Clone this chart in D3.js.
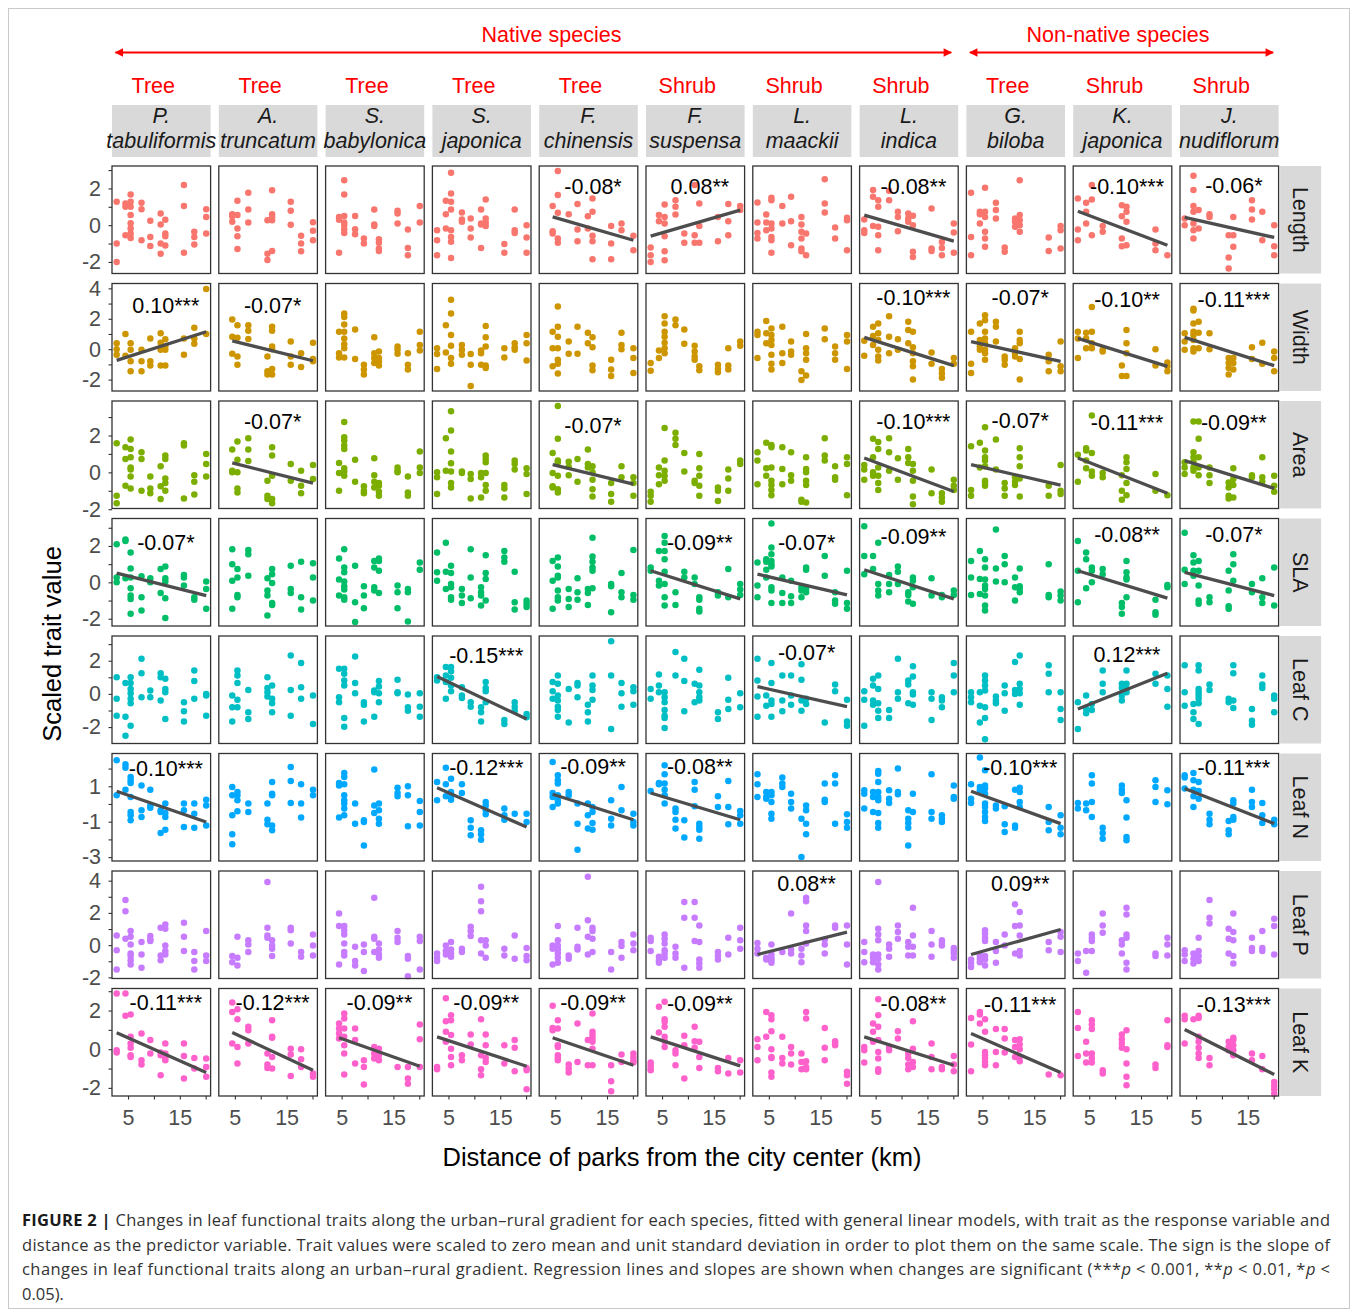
<!DOCTYPE html>
<html>
<head>
<meta charset="utf-8">
<script src="https://cdn.jsdelivr.net/npm/d3@7"></script>
<style>
  body { margin: 0; background: #fff; }
  svg { display: block; }
</style>
</head>
<body>
<svg id="chart" width="1358" height="1313"></svg>
<script>
// ---- data -------------------------------------------------------------
const species = [
  ['P.', 'tabuliformis'], ['A.', 'truncatum'], ['S.', 'babylonica'], ['S.', 'japonica'],
  ['F.', 'chinensis'], ['F.', 'suspensa'], ['L.', 'maackii'], ['L.', 'indica'],
  ['G.', 'biloba'], ['K.', 'japonica'], ['J.', 'nudiflorum']
];
const habit = ['Tree', 'Tree', 'Tree', 'Tree', 'Tree', 'Shrub', 'Shrub', 'Shrub', 'Tree', 'Shrub', 'Shrub'];
const origin = [
  { label: 'Native species', from: 0, to: 7 },
  { label: 'Non-native species', from: 8, to: 10 }
];
const traits = ['Length', 'Width', 'Area', 'SLA', 'Leaf C', 'Leaf N', 'Leaf P', 'Leaf K'];
const traitColors = ['#F8766D', '#CD9600', '#7CAE00', '#00BE67', '#00BFC4', '#00A9FF', '#C77CFF', '#FF61CC'];

const xLimits = [1.9, 20.95];
const xTicks = [5, 10, 15, 20];
const xTickLabels = [5, 15];

const yLimits = [[-2.63, 3.22], [-2.75, 4.32], [-1.96, 3.87], [-2.4, 3.51],
                 [-2.99, 3.49], [-3.22, 2.85], [-2.07, 4.6], [-2.42, 3.14]];
const yTicks = [[-2, -1, 0, 1, 2, 3], [-2, -1, 0, 1, 2, 3, 4], [-2, -1, 0, 1, 2, 3], [-2, -1, 0, 1, 2, 3],
                [-2, -1, 0, 1, 2, 3], [-3, -2, -1, 0, 1, 2], [-2, -1, 0, 1, 2, 3, 4], [-2, -1, 0, 1, 2, 3]];
const yTickLabels = [[-2, 0, 2], [-2, 0, 2, 4], [-2, 0, 2], [-2, 0, 2],
                     [-2, 0, 2], [-3, -1, 1], [-2, 0, 2, 4], [-2, 0, 2]];

// points per park: [distance, scaled value, scaled value, ...], one list per species
const lengthPts = [
  [[2.8,1.27,-1,-2],[4.5,1.18,1,-0.55],[5.5,1.67,1.27,1,0.55,0.1,-0.18,-0.45,-0.7],[7.6,1.22,0.87,-0.82],[9.3,0.24,-0.64,-1.13],[11.3,0.64,0.04,-1,-1.55],[12.2,0.3,-0.45,-0.6,-1.1],[15.8,2.18,1.05,-1.5],[17.8,-0.36,-0.64,-1.05],[20.1,0.87,0.45,-0.45]],
  [[4.5,0.6,0.49,0.18],[5.5,1.33,0.55,-0.18,-0.6,-1.3],[7.6,1.76,0.85,0.15],[11.3,0.27,-1.55,-1.9],[12.2,1.9,0.6,0.45,0.27,-1.4],[15.8,1.27,0.78,0.02],[17.8,-0.58,-1,-1.42],[20.1,0.16,-0.3,-0.82]],
  [[4.5,0.45,0.3,-1.5],[5.5,2.45,1.67,0.5,0.15,0,-0.22,-0.42],[7.6,0.5,-0.22,-0.5],[9.3,-0.73,-1],[11.3,0.85,0.04,-0.05],[12.2,-0.76,-0.96,-1.27,-1.4],[15.8,0.78,0.64,0.09],[17.8,-0.24,-1.24,-1.64],[20.1,1.05,0.15]],
  [[2.8,-0.27,-0.82,-1.64],[4.5,1.33,0.6,-0.18],[5.5,2.85,1.73,1.27,0.85,-0.27,-0.64,-0.9,-1.78],[7.6,0.69,0.31,0.18],[9.3,0.36,-0.18,-0.67],[11.3,0.85,0.09,0.04,-1.24],[12.2,1.4,0.36,0.15,-0.04],[15.8,-1.02,-1.5],[17.8,0.85,-0.27,-0.42],[20.1,0,-0.67,-1.5]],
  [[4.5,1.05,-0.33,-0.45],[5.5,2.95,1.64,0.67,-0.73,-0.96],[7.6,0.6],[9.3,1.15,-0.24,-0.87],[11.3,0.49,-0.18],[12.2,1.45,0.73,-0.58,-0.87,-1.85],[15.8,-0.04,-1,-1.85],[17.8,0.09,-0.27],[20.1,-0.58,-1.36]],
  [[2.8,-1.22,-1.64,-2],[4.4,0.55,0.22],[5.5,1.13,0.45,0.09,-0.6,-1.42,-1.91],[7.6,1.36,1,0.58],[9.3,-0.45,-0.96],[11.3,2.18,-0.55,-0.96],[12.2,1.18,-0.04,-0.95],[15.8,0.45,-0.87],[17.8,1.15,0.22,-0.55],[20.1,1.05,0.82]],
  [[2.8,1.24,0.15,-0.42,-0.73],[4.5,0.58,0.15,-0.27],[5.5,1.49,1.36,0.09,-0.18,-0.64,-0.82,-1.5],[7.6,1.05,0.09],[9.3,1.55,0.22,-1.09],[11.3,0.45,0.04,-0.36,-0.73,-1.27,-1.42],[12.2,-0.45,-1.64],[15.8,2.5,1.18,0.69],[17.8,-0.13,-0.73],[20.1,0.4,0.27,-1.36]],
  [[2.8,0.31,-0.27,-0.42],[4.5,1.91,1.55,-0.04],[5.5,1.36,1,-0.09,-0.55,-1.36],[7.6,1.87,1.36],[9.3,0.73,0.45,-0.33],[11.3,0.64,0.36,0.18],[12.2,0.51,0,-1.45,-1.73],[15.8,0.91,-1.27,-1.4],[17.8,-0.91,-1.24,-1.64],[20.1,0.09,-0.4,-1.5]],
  [[2.8,1.76,-0.64,-1.64],[4.5,0.73,0.6,0.09],[5.5,2.04,0.73,0.45,-0.36,-0.73,-1.18],[7.6,1.22,0.82,0.36],[9.3,-1.22,-1.45],[11.3,0.36,0.18,-0.09],[12.2,2.45,0.55,0.27,0,-0.36],[17.8,-0.67,-1.4],[20.1,-0.05,-0.27,-1.27]],
  [[2.8,1.45,-0.24,-0.82],[4.4,1.22,0.73,0.09],[5.5,2.18,1.4,-0.55],[7.6,-0.05,-0.36],[11.3,1.09,0.49,-0.73,-1.15],[12.2,1,0.73,0.18,-1.09],[17.8,-0.24,-1,-1.36],[20.1,-1.64]],
  [[2.8,0.36,0],[4.5,2.69,1.91,1.04,0.73,0.09,-0.27,-0.73],[5.5,0.82,-0.18],[7.6,0.6,0.45],[11.3,-0.55,-1.76,-2.36],[12.2,0.45,-0.55,-1.18],[15.8,1.36,0.85,0.31],[17.8,0.73,-0.82],[20.1,0,-1.15,-1.64]]
];
const widthPts = [
  [[2.8,0.39,0,-0.37],[4.5,1,-0.43],[5.5,0.39,-0.04,-0.8,-1.45],[7.6,-0.04,-0.8,-1.45],[9.3,0.71,-0.8,-1.08],[11.3,1.04,0.43,-0.04,-1.08],[12.2,0.65,0.17,-0.04,-1.08],[15.8,0.71,-0.37],[17.8,1.41,0.71,0.35],[20.1,3.96,1]],
  [[4.5,1.95,0.82,-0.3],[5.5,1.58,0.76,-0.48,-1.02],[7.6,1.58,1.21,0.67],[11.3,-0.48,-1.45,-1.67],[12.2,1.47,1.21,0.17,0,-1.3,-1.67],[15.8,0.5,-0.48,-1.02],[17.8,-0.26,-1.17],[20.1,0.43,-0.65,-0.8]],
  [[4.5,1.15,-0.26,-0.54],[5.5,2.34,2.12,1.62,1.15,0.71,0.32,0.06,-0.54],[7.6,1.3,-0.65],[9.3,-1.02,-1.34,-1.67],[11.3,0.78,-0.26,-0.58,-0.91],[12.2,-0.15,-0.58,-0.8,-1.08],[15.8,0.17,-0.04,-0.3],[17.8,-0.26,-1.02,-1.34],[20.1,1.15,0.28,-0.09]],
  [[2.8,0.06,-0.32,-1.3],[4.5,1.58,-0.22],[5.5,3.25,2.34,0.93,0.22,-0.58,-0.95],[7.6,0.28,-0.04,-0.37],[9.3,-0.32,-1.02,-2.42],[11.3,-0.09,-0.26,-1.02],[12.2,1.52,0.78,0.17,-1.08,-1.23],[15.8,0.06,-0.54],[17.8,0.39,0.13,-0.04],[20.1,0.93,0.39,-0.74]],
  [[4.5,1.15,0.06,-1.13],[5.5,2.81,1.47,0.82,0.06,-0.69,-0.95,-1.6],[7.6,0.5,-0.3],[9.3,1.47,-0.3],[11.3,1.08,0.39],[12.2,0.78,0.13,-1.08,-1.39],[15.8,-0.69,-1.34,-1.77],[17.8,1.08,0.28,0],[20.1,0.06,-0.58,-1.56]],
  [[2.8,-0.91,-1.41],[4.4,-0.09,-0.58],[5.5,2.16,1.69,1.15,0.82,0.43,0.06,-0.26],[7.6,1.95,1.58],[9.3,1.3,0.35],[11.3,0.22,-0.15,-0.48,-0.69],[12.2,-1.13,-1.39],[15.8,-1.02,-1.3,-1.52],[17.8,0.06,-1.08,-1.34],[20.1,0.5,0.22]],
  [[2.8,1.15,0.93,-0.58],[4.5,1.86,1.04,0.39],[5.5,1.36,0.93,0.61,0.28,-0.37,-0.95,-1.34],[7.6,1.47,-0.26,-0.91],[9.3,0.5,-0.15,-0.37],[11.3,-1.45,-2.03],[12.2,1,0.06,-0.26,-0.69,-1.73],[15.8,1.36,0.65],[17.8,0.17,-0.26,-0.69],[20.1,0.93,0.5,-1.3]],
  [[2.8,0.56,-0.43],[4.5,1.47,0.87,0.28],[5.5,1.69,1.04,0.61,-0.04,-0.48,-0.74],[7.6,2.16,0.82,-0.26],[9.3,0.65,-0.04],[11.3,1.8,1.26,0.39],[12.2,1.15,0.13,-0.26,-0.8,-1.13,-1.99],[15.8,-0.22,-0.95],[17.8,-1.3,-1.6,-1.88],[20.1,-0.58,-0.95]],
  [[2.8,1.15,-0.95,-1.56],[4.5,1.69,0.61,0.17,-0.04],[5.5,2.23,1.9,1.15,0.71,0.39,-0.04,-0.26,-0.69],[7.6,1.8,1.47,0.5],[9.3,-0.48,-0.69,-1.02],[11.3,0.06,-0.26,-0.48],[12.2,1.15,0.61,0.39,-0.65,-1.99],[17.8,-0.37,-0.8,-1.45],[20.1,0.5,-1.13,-1.45]],
  [[2.8,1.15,0.71,-0.58],[4.4,1.08,0.71,0.06],[5.5,2.77,1.15,0.39,0.06],[7.6,-0.04,-0.15],[11.3,-1.08,-1.77],[12.2,1.26,0.39,-0.26,-1.77],[17.8,0,-1.08],[20.1,-0.87,-1.13,-1.45]],
  [[2.8,1.04,0.5,-0.04],[4.5,2.66,2.55,1.69,1.15,0.93,0.61,0.06,-0.15],[5.5,1.8,1.08,0.06],[7.6,1.04,0],[11.3,-0.58,-0.91,-1.23,-1.67],[12.2,-0.58,-0.91,-1.34],[15.8,0.13,-0.65],[17.8,0.43,-0.95],[20.1,-0.15,-0.58,-1.45]]
];
const areaPts = [
  [[2.8,1.58,-1.27,-1.67],[4.5,1.36,0.73,-0.73],[5.5,1.78,1.27,0.82,0.27,0.15,-0.22,-0.87],[7.6,1.09,0.73,-1],[9.3,-0.22,-0.87,-1.13],[11.3,0.33,-0.76,-1.45],[12.2,0.91,0.73,-0.33,-0.58,-1],[15.8,1.58,1.45,-1.42],[17.8,-0.15,-0.51,-1.2],[20.1,1,0.45,-0.22]],
  [[4.5,1.24,0.09,0],[5.5,1.67,0.69,0,-0.87,-1.09],[7.6,1.85,1.24,0.62],[11.3,-0.45,-1.27,-1.45],[12.2,1.36,0.91,-0.18,-1.45,-1.67],[15.8,0.45,-0.45],[17.8,0.09,-0.73,-1.13],[20.1,0.4,-0.36]],
  [[4.5,0.51,-0.04,-1],[5.5,2.73,1.91,1.73,1.45,1.27,0.22,0.04,-0.18],[7.6,0.69,-0.51],[9.3,-0.76,-1,-1.13],[11.3,0.76,-0.15,-0.51,-0.82],[12.2,-0.58,-0.73,-1.05,-1.27],[15.8,0.27,0.09,0],[17.8,-0.22,-1.09,-1.27],[20.1,1.13,0.27,-0.04]],
  [[2.8,0,-0.27,-1.18],[4.5,1.85,0.09],[5.5,3.31,2.27,1.13,0.49,0.04,-0.58,-0.82],[7.6,0.04,-0.04],[9.3,-0.09,-0.36,-1.42],[11.3,-0.04,-0.27,-1.36],[12.2,0.91,0.73,0.55,-0.04,-0.69,-1],[15.8,-0.69,-0.87,-1.36],[17.8,0.64,0.45,0.15],[20.1,0.22,-0.09,-1.18]],
  [[4.5,1.05,-0.04,-0.76,-0.82],[5.5,3.6,1.82,0.64,0.55,-0.18,-0.91,-1.09],[7.6,0.58,0.31,-0.15],[9.3,0.73,-0.51],[11.3,1.24,0.45,0.27],[12.2,0.33,0,-0.4,-0.91,-1.31],[15.8,-0.58,-1.18,-1.6],[17.8,0.33,-0.27],[20.1,-0.27,-0.58,-1.27]],
  [[2.8,-1.05,-1.27,-1.6],[4.4,0.27,-0.15,-0.64],[5.5,2.4,0.64,0.09,-0.18,-0.45],[7.6,2.15,1.82,1.49],[9.3,1.05,0.04],[11.3,-0.45,-0.58],[12.2,1,0.22,-0.18,-0.73,-1.27],[15.8,-0.82,-1,-1.55],[17.8,0.15,-0.33,-1],[20.1,0.64,0.45]],
  [[2.8,1.09,0.64,-0.64],[4.5,1.6,0.22,-0.18],[5.5,1.49,1.36,0.27,-0.45,-0.69,-0.95,-1.24],[7.6,1.36,0.18,-0.64],[9.3,1.09,-0.15,-0.45],[11.3,-1.49,-1.6],[12.2,0.82,0.18,0,-0.45,-0.69,-1.64],[15.8,1.85,0.91,0.64],[17.8,0.33,-0.27,-0.4],[20.1,0.82,0.45,-1.24]],
  [[2.8,0.4,0.15,-0.4],[4.5,1.82,0.82,0,-0.18],[5.5,1.64,1.27,0.27,-0.18,-0.58,-0.95],[7.6,1.85,1.09,0.09],[9.3,0.76,-0.4],[11.3,1.27,0.82,0.51],[12.2,0.45,0.09,-0.45,-1.31,-1.73],[15.8,0.15,-1.13],[17.8,-1.13,-1.36,-1.6],[20.1,-0.4,-0.73,-0.95]],
  [[2.8,1.42,-0.95,-1.27],[4.5,1.6,0.27],[5.5,2.45,1.18,0.82,0.64,0.33,-0.45,-0.58,-0.73],[7.6,1.78,0.15],[9.3,-0.58,-0.87,-1.27],[11.3,-0.27,-0.51,-0.69],[12.2,1.31,0.82,0.33,-0.33,-1.31],[17.8,-0.73,-1.27],[20.1,0.4,-1,-1.18]],
  [[2.8,0.95,-0.51],[4.4,1.31,1.18,0.64,0.22],[5.5,3.09,1.05,0.04,-0.18],[7.6,-0.04,-0.27],[11.3,-0.15,-1,-1.49],[12.2,0.82,0.55,0.18,-0.58,-1.24],[17.8,-0.09,-1],[20.1,-1.24]],
  [[2.8,0.55,0.27,-0.09],[4.5,2.76,1.09,0.82,0.58,0.27,0.09],[5.5,2.76,1.82,0.82,0.27,-0.15],[7.6,0.27,-0.15,-0.58],[11.3,-0.55,-0.82,-1.27,-1.42],[12.2,0.22,-0.36,-0.69,-1.36],[15.8,-0.15,-0.27],[17.8,0.82,-0.27,-0.51],[20.1,-0.18,-0.73,-1.05]]
];
const slaPts = [
  [[2.8,2.09,0.27,0],[4.5,2.36,2.27,0.22],[5.5,1.64,0.76,0.27,-0.33,-0.73,-0.91,-1.73],[7.6,0.33,-0.82,-1.55],[9.3,0.22,0],[11.3,0.73,-0.58],[12.2,0.87,0.22,0.04,-0.87,-1.96],[15.8,0.4,0.27,-0.18],[17.8,-0.82,-0.95],[20.1,0.04,-0.36,-1.45]],
  [[4.5,1.82,1,0.09,-1.45],[5.5,0.73,0.27,-0.69,-0.82],[7.6,1.78,1.55,0.36],[11.3,0.22,-0.45,-0.73,-1.82],[12.2,0.73,0.45,-0.04,-1.13,-1.24],[15.8,0.91,-0.36,-0.58],[17.8,1.13,-0.82,-1.49],[20.1,1.05,0.27,-1]],
  [[4.5,1.31,0.15,-0.73],[5.5,1.82,0.82,0.55,0.04,-0.22,-0.4,-0.82,-0.95],[7.6,0.91,-1.09,-2.18],[9.3,-0.22,-0.73,-1.42],[11.3,1.18,0.82,-0.27,-0.45],[12.2,1.31,1.18,0.64,-0.58],[15.8,-0.18,-0.55,-1.42],[17.8,-0.36,-0.55,-2.15],[20.1,1.09,0.69]],
  [[2.8,1.64,0.55,0.09],[4.5,2.18,0.58,-0.36],[5.5,0.91,0.51,-0.09,-0.27,-0.82,-0.95],[7.6,-0.36,-0.73,-1.13],[9.3,1.82,0.27,-0.87],[11.3,-0.27,-0.55,-0.73,-1.27],[12.2,1.49,0.51,0.18,-1],[15.8,1.73,1.36,1.13],[17.8,0.58,-1.09,-1.49],[20.1,-1,-1.18,-1.36]],
  [[4.5,1.18,0.09,-1.45],[5.5,1.36,0.87,0.36,0.27,-0.45,-0.82,-1],[7.6,-0.36,-0.91,-1.36],[9.3,0.22,-0.55,-0.95],[11.3,-0.36,-0.58,-1.24],[12.2,2.45,1.42,1.13,0.82,0.64,-0.33],[15.8,-0.09,-0.22,-1.64],[17.8,0.51,-0.55,-0.82],[20.1,1.78,-0.69,-0.95]],
  [[2.8,0.82,0.64],[4.4,1.73,0.09,-0.18],[5.5,2.55,2.18,1.73,1.27,0.58,-0.09,-0.82,-1.27],[7.6,-0.55,-1.24],[9.3,0.58,0.27],[11.3,0.27,-0.09],[12.2,-0.82,-0.95,-1.45,-1.6],[15.8,-0.55,-0.73],[17.8,0.73,-0.82],[20.1,-0.09,-0.4,-0.69]],
  [[2.8,1.09,-0.18,-0.82],[4.5,1.27,1.13,0.69,0.27],[5.5,3.24,1.91,1.55,1.18,1,0.87,-0.27,-0.45,-1.13],[7.6,0.27,-0.58,-1.13],[9.3,0.09,-0.76,-1.13],[11.3,-0.27,-0.45,-0.82],[12.2,0.82,0.69,-0.36,-0.55],[15.8,1.45,0.36],[17.8,-0.55,-1,-1.18],[20.1,0.64,-1.13,-1.45]],
  [[2.8,3.09,1.45,0.45],[4.5,1.45,0.73],[5.5,2.18,-0.09,-0.45,-0.73],[7.6,0.4,-0.09,-0.55],[9.3,0.87,0.58,-0.09],[11.3,-0.55,-0.69,-1.05],[12.2,0.27,0.09,-0.27,-1.18],[15.8,0.22,-0.73],[17.8,-0.69,-0.82],[20.1,-0.45,-0.69]],
  [[2.8,1.18,0.27,-0.69],[4.5,1.73,0.18,-0.64],[5.5,1.27,0.82,0.15,-0.18,-0.36,-0.73,-1.27,-1.55],[7.6,2.91,0.76,0.04],[9.3,1.45,1,0],[11.3,0.27,-0.27,-1],[12.2,0.76,-0.22,-0.36,-0.55],[17.8,1,-0.69,-0.82],[20.1,-0.51,-0.73,-1]],
  [[2.8,2.27,0.64,-1.09],[4.4,1.64,1.27,-0.33],[5.5,0.82,0.64,0],[7.6,0.73,0.45],[11.3,-1.13,-1.36,-1.73],[12.2,1.18,0.55,0.27,0.15,-0.82],[17.8,-0.95,-1.64,-1.78],[20.1,-0.15,-0.27]],
  [[2.8,2.73,0.69,-0.09],[4.5,1.49,1.09,0.64,0.36],[5.5,1.18,0.64,-0.18,-1,-1.18],[7.6,-0.82,-1.09],[11.3,0.64,-0.45,-1.31,-1.45],[12.2,1.55,1,0.09],[15.8,-0.09,-0.55],[17.8,0.22,-0.82,-1.13],[20.1,0.82,-1.27]]
];
const leafCPts = [
  [[2.8,1.01,-0.3,-1.31],[4.5,0.65,-1.37,-2.53],[5.5,1.01,0.65,0.3,0.04,-0.3,-0.57,-1.92],[7.6,2.12,1.25,-0.2],[9.3,0.2,-0.2],[11.3,1.25,1.01,-0.4],[12.2,0.91,0.3,0.1,-1.52],[15.8,-0.51,-1.05,-1.66],[17.8,1.41,0.77,-0.3],[20.1,0,-0.1,-1.31]],
  [[4.5,-0.1,-0.81,-1.66],[5.5,1.41,1.11,0.65,-0.36,-0.81],[7.6,0.24,-1.11,-1.52],[11.3,1.01,0.36,0.1,-0.16],[12.2,0.51,-0.3,-0.57,-1.11],[15.8,2.32,0.24,-1.31],[17.8,1.86,0.4,-0.3],[20.1,-0.1,-1.82]],
  [[4.5,1.52,-0.2,-0.51],[5.5,1.52,1.21,0.81,0.51,-1.45,-1.98],[7.6,2.26,0.65,0.04],[9.3,-0.51,-0.65,-1.66],[11.3,0.2,0.1,-1.37],[12.2,0.77,0.44,0.04,-0.51],[15.8,0.85,0.1,0.04],[17.8,-0.04,-0.81,-1.01],[20.1,0.04,-0.77,-1.37]],
  [[2.8,1.01,0.81],[4.5,1.62,1.11,0.71,-0.3],[5.5,1.62,1.37,0.97,0.51,0.16],[7.6,0.4,-0.1,-0.24],[9.3,-0.51,-0.77],[11.3,-0.81,-1.11,-1.66],[12.2,0.71,0.36,0.16,-0.51],[15.8,-1.58,-1.82],[17.8,-0.51,-0.77,-1.01],[20.1,-1.21,-1.41]],
  [[4.5,0.71,0.16,-0.3],[5.5,1.11,0.61,-0.1,-0.4,-0.77,-0.97,-1.37],[7.6,0.3,-1.72],[9.3,0.65,0.51,-0.2],[11.3,-0.65,-1.11,-1.66],[12.2,1.11,0.51,0.24,-0.36],[15.8,3.17,1.11,-2.12],[17.8,0.65,0.04,-0.77],[20.1,0.4,0.16,-0.65]],
  [[2.8,0.3,-0.3],[4.4,1.17,0.51,0.1],[5.5,0.1,-0.2,-0.51,-0.97,-1.31,-1.45,-2.06],[7.6,2.53,1.11],[9.3,2.12,0.77,-1.05],[11.3,0.61,-0.51],[12.2,1.45,0.51,0.1,-0.2,-0.4],[15.8,-1.11,-1.52],[17.8,0.97,-0.36,-0.91],[20.1,0.04,-0.81]],
  [[2.8,2.12,0.81,-0.16,-1.37],[4.5,-0.1,-0.71],[5.5,1.86,0.65,-0.4,-0.61,-1.37],[7.6,1.11,-0.4,-1.05],[9.3,1.11,-0.1,-0.65],[11.3,1.78,0.85,-0.4,-1.01],[12.2,-0.3,-0.61],[15.8,-1.72],[17.8,0.57,0.16],[20.1,-0.36,-1.66,-1.92]],
  [[2.8,0.16,-0.36,-1.92],[4.5,0.91,0.51,-0.4,-0.65],[5.5,1.11,0.3,-0.57,-1.01,-1.45],[7.6,-0.97,-1.45],[9.3,2.12,0.1,-0.3],[11.3,0.81,0.57,-0.57],[12.2,1.66,1.05,0.1,-0.04,-0.65],[15.8,0.1,-0.3,-1.58],[17.8,-0.2,-0.4,-0.81],[20.1,1.86,1.11,0.1]],
  [[2.8,0.1,-0.2,-0.51],[4.5,0.1,-0.71,-1.72],[5.5,1.11,0.81,0.51,0.2,-0.81,-1.45,-2.73],[7.6,-0.16,-0.4,-0.57],[9.3,0.51,0.04,-1.01],[11.3,1.92,0.24,0],[12.2,2.32,0.61,0.3,0.04,-0.65],[17.8,1.72,1.21,0.1],[20.1,0.1,-0.91,-1.58]],
  [[2.8,-0.51,-2.12],[4.4,-0.1,-0.91,-1.17],[5.5,-0.61,-0.97],[7.6,1.41,0.61,0.1],[11.3,0.61,0.36,-0.1,-0.4],[12.2,1.41,0.61,0.3,0.1],[17.8,1.21,0.61],[20.1,1.11,0.3,-0.77]],
  [[2.8,1.72,0.1,-0.71],[4.5,-0.61,-1.11,-1.52],[5.5,1.72,1.41,0.3,0.1,-0.1,-0.3,-0.57,-1.82],[7.6,0.57,0.24],[11.3,-0.3,-0.51],[12.2,1.72,1.25,-0.4,-0.85],[15.8,-0.91,-1.62,-1.86],[17.8,1.11,0.57,0.36],[20.1,-0.1,-0.3,-1.11]]
];
const leafNPts = [
  [[2.8,2.47,0.49],[4.5,2.24,2.05,0.81],[5.5,1.53,1.34,1.19,0.4,-0.45,-0.64,-0.92],[7.6,1.05,-0.36,-0.73],[9.3,0.81,-0.08,-0.21],[11.3,-0.36,-0.45,-1.64],[12.2,0.02,-0.51,-0.73,-1.45],[15.8,0.02,-0.36,-1.3],[17.8,0.02,-0.55,-1.34],[20.1,0.24,-0.08,-1.21]],
  [[4.5,0.96,0.49,-0.64,-1.71,-2.28],[5.5,0.68,0.49,0.21,-0.41],[7.6,0.02,-0.45],[11.3,0.02,-0.89,-1.15],[12.2,1.24,0.58,0.49,-1.21,-1.49],[15.8,2.09,1.3,0.06],[17.8,1.11,0.02,-0.77],[20.1,0.81,0.49]],
  [[4.5,1.19,1.05,-0.77],[5.5,1.75,1.53,1.11,0.49,0.21,0.02,-0.26,-0.64],[7.6,0.02,-1.11],[9.3,-0.92,-1.02,-2.34],[11.3,1.94,-0.08,-0.51],[12.2,0.02,-0.36,-0.83,-1.11],[15.8,0.92,0.62,0.43],[17.8,1,0.49,-1.26],[20.1,0.17,-0.45,-1.21]],
  [[2.8,1.24,0.21],[4.5,2.05,1.11,0.43],[5.5,1.43,0.68,0.4,0.24],[7.6,1.11,0.62],[9.3,-0.92,-1.34,-1.77],[11.3,-1.49,-1.71,-2.02],[12.2,0.11,-0.08,-0.36,-0.58],[15.8,-0.26,-0.64,-0.89],[17.8,-0.55],[20.1,-0.55,-1.02]],
  [[4.5,2.37,0.62,0.4,-0.17],[5.5,1.62,1.34,1.15,0.49,0.21,0.02],[7.6,0.68,0.49],[9.3,0.02,-1.11,-2.58],[11.3,0.02,-0.64,-1.39],[12.2,-0.17,-0.45,-1.07,-1.45],[15.8,0.21,-0.83,-1.21],[17.8,0.96,-0.36],[20.1,-0.55,-1.02,-1.21]],
  [[2.8,0.73],[4.4,1.19,1.11],[5.5,2.18,1.68,1.15,0.81,0.49,0.02],[7.6,-0.26,-0.45,-0.89,-1.39],[9.3,-0.92,-1.9],[11.3,1.24,0.81,-0.13],[12.2,-1.11,-1.3,-1.45,-1.96],[15.8,0.43,-0.17],[17.8,1.3,-0.17,-1.15],[20.1,-0.4,-0.64,-1.11]],
  [[2.8,1.68,1.11,0.4],[4.5,0.68,0.4,0.3],[5.5,0.68,0.49,0.11,-0.55,-0.83],[7.6,1.49,1.15,0.96],[9.3,0.58,0.11,-0.26],[11.3,-0.83,-2.99],[12.2,-0.08,-0.36,-1.11,-1.71],[15.8,1.15,0.24,0.11],[17.8,1.62,1.15,-1.11],[20.1,-0.58,-1.02,-1.34]],
  [[2.8,0.77,0.58,-0.26],[4.5,0.68,0.4,-0.45],[5.5,1.86,1.71,1.24,0.68,0.4,0.21,-0.51,-1.07,-1.34],[7.6,0.77,0.3,0.06],[9.3,2,0.68,0.55],[11.3,-0.36,-0.83,-1.07,-1.34,-2.34],[12.2,0.58,-0.45],[15.8,1.68,-0.45,-0.83],[17.8,-0.64,-0.83,-1.02],[20.1,1.05,0.4,0.3]],
  [[2.8,1.11,0.3,0.06],[4.5,2.62,0.96,0.77],[5.5,1.9,1.05,0.87,0.58,0.02,-0.17,-0.45,-0.73,-0.96],[7.6,-0.08,-0.26],[9.3,-0.13,-1.15,-1.58],[11.3,0.81,-1.21,-1.34],[12.2,0.92,0.68,0.11,-0.17],[17.8,-0.17,-1.02,-1.49],[20.1,-0.64,-1.34,-1.71]],
  [[2.8,0.06,-0.26],[4.4,0.02,-0.36],[5.5,1.62,1.15,0.11,-0.73],[7.6,-1.34,-1.64,-1.96],[11.3,1.05,0.81,0.62],[12.2,0.21,-0.77,-1.86,-2.05],[17.8,1.34,0.96,0.11],[20.1,0.77,-0.02]],
  [[2.8,1.62,1.49,0.87],[4.5,1.75,1.34,0.81,0.43,-0.17],[5.5,1.24,0.73,0.3],[7.6,-0.55,-0.89,-1.15],[11.3,-0.96,-1.49,-1.71],[12.2,0.21,0.02,-0.73,-0.89],[15.8,0.81,0.11,-0.17],[17.8,0.06,-0.64,-1.07],[20.1,-0.89,-1.15]]
];
const leafPPts = [
  [[2.8,0.6,-0.31,-1.51],[4.5,2.8,2.11,0.39],[5.5,0.87,0.52,0.04,-0.52,-0.68,-0.93,-1.2],[7.6,0.19,-0.58,-1.41],[9.3,0.56,0.35,0.25],[11.3,1.08,-0.64,-0.93],[12.2,1.28,1.01,-0.02,-0.37,-0.58],[15.8,1.39,0.52,-0.37],[17.8,-0.43,-0.99,-1.51],[20.1,0.87,-0.64,-0.99]],
  [[4.5,-0.68,-1.06],[5.5,0.52,-0.79,-1.26],[7.6,0.31,0.04,-0.43],[11.3,3.91,1.08,0.6,0.46],[12.2,0.31,-0.02,-0.23,-0.68],[15.8,1.08,0.93,0.1],[17.8,-0.43,-0.72],[20.1,0.66,-0.02,-0.64]],
  [[4.5,1.97,1.18,-1.2],[5.5,1.18,0.93,0.66,0.1,-0.43,-0.64],[7.6,-0.1,-0.99,-1.26],[9.3,0.04,-0.43,-1.61],[11.3,2.94,0.52,0.39,-0.43],[12.2,0.1,-0.27,-0.58,-0.79],[15.8,0.87,0.46,0.19],[17.8,-0.68,-0.85,-1.93],[20.1,0.52,0.25,-1.51]],
  [[2.8,-0.52,-0.79,-0.99],[4.5,-0.02,-0.37,-0.58],[5.5,0.19,-0.27,-0.52,-0.72],[7.6,-0.23,-0.43],[9.3,1.14,0.87,0.56],[11.3,3.62,2.73,2.11,0.31,-0.52],[12.2,0.31,-0.02,-0.79],[15.8,-0.23,-0.64],[17.8,0.6,-0.85],[20.1,-0.17,-0.68,-0.93]],
  [[4.5,-0.02,-0.23,-1.2],[5.5,1.18,0.31,-0.02,-0.27,-0.52,-0.79,-1.1],[7.6,-0.64,-0.85],[9.3,1.08,-0.1,-0.27],[11.3,4.24,1.55,0.52,-0.58],[12.2,1.08,0.87,0.39,-0.43],[15.8,-0.43,-1.51],[17.8,0.19,-0.06,-0.79],[20.1,0.66,0.1,-0.31]],
  [[2.8,0.46,0.25,-0.37],[4.4,-0.72,-0.93,-1.1],[5.5,0.66,0.39,0.1,-0.31,-0.52,-0.79],[7.6,-0.1,-0.52,-0.79],[9.3,2.67,1.7,-1.41],[11.3,2.67,1.7,0.25],[12.2,1.22,0.19,-0.89,-1.14,-1.41],[15.8,-0.43,-0.68,-0.89],[17.8,0.46,-0.58],[20.1,1.08,0.31,-0.23]],
  [[2.8,0.14,-0.23,-0.52],[4.5,-0.79,-0.89],[5.5,0.04,-0.58,-0.79,-0.93,-1.1],[7.6,-0.43],[9.3,1.97,-0.27,-0.52],[11.3,-0.23,-0.64,-1.06],[12.2,2.94,2.73,1.22,0.87,0.1],[15.8,0.35,0.04,-0.52],[17.8,1.22,1.08],[20.1,1.22,0.04,-1.2]],
  [[2.8,0.19,-0.43,-1.06],[4.5,-0.58,-0.79,-1.06],[5.5,3.91,1.01,0.66,0.31,-0.58,-0.85,-1.2,-1.51],[7.6,0.04,-0.23,-0.72],[9.3,1.22,0.81,0.39],[11.3,0.19,-0.1,-0.64],[12.2,2.32,0.6,-0.1,-0.64],[15.8,0.87,0.04,-0.72],[17.8,0.31,0.14,-0.02],[20.1,-0.17,-0.37,-0.52,-0.79]],
  [[2.8,-0.89,-1.1,-1.35],[4.5,-0.64,-0.85,-1.06],[5.5,0.93,0.72,0.46,0.25,-0.68,-0.89,-1.26],[7.6,0.19,-0.37,-1.1],[9.3,0.66,-0.02],[11.3,2.53,1.18,-0.52],[12.2,2.05,1.22,0.6,-0.37,-0.64],[17.8,0.19,-0.31],[20.1,0.81,0.52,-0.43]],
  [[2.8,-0.52,-0.99],[4.4,-0.37,-1.72],[5.5,0.66,0.46,0.25,-0.37],[7.6,1.97,1.22,0.77],[11.3,0.31,0.04,-0.52],[12.2,2.32,1.9,0.66,0.46,-1.1,-1.51],[17.8,-0.52,-0.68],[20.1,0.46,0.04,-0.64]],
  [[2.8,-0.31,-0.58,-0.99],[4.5,-0.52,-0.85,-1.14],[5.5,0.46,-0.37,-0.68,-0.99],[7.6,2.8,1.7,1.35],[11.3,1.01,0.39,-0.52],[12.2,1.97,0.81,0.31,-0.68,-1.14],[15.8,0.46,-0.17,-0.37],[17.8,0.87,-0.17,-0.37],[20.1,1.64,1.18,-0.58]]
];
const leafKPts = [
  [[2.8,2.88,-0.05,-0.17],[4.5,2.88,1.73],[5.5,1.8,0.64,0.29,0.07,-0.31,-0.4],[7.6,0.81,-0.57,-0.79],[9.3,0.47,-0.22],[11.3,-0.17,-0.31,-1.35],[12.2,0.29,-0.22,-0.45,-0.57],[15.8,0.29,-0.35,-1.52],[17.8,-0.45,-1],[20.1,-0.48,-0.92,-1.43]],
  [[4.5,2.42,1.93,0.29],[5.5,2.07,1.55,0.12,-0.74],[7.6,1.16,0.98,0.29],[11.3,-0.22,-0.79,-0.97],[12.2,1.5,0.64,0.59,-0.4,-1],[15.8,0.03,-0.28,-1.38],[17.8,0,-0.52,-0.92],[20.1,-1.26,-1.43]],
  [[4.5,1.33,1.07,0.81,0.55],[5.5,1.85,1.59,1.07,0.64,0.21,-0.22,-1.31],[7.6,1.07,0.47,-0.74],[9.3,-0.57,-0.92,-1.83],[11.3,0.12,-0.22,-0.48],[12.2,0.03,-0.31,-0.57],[15.8,-0.92],[17.8,-0.92,-1.52,-1.78],[20.1,1.28,0.52,-0.92]],
  [[2.8,-0.92,-1.04],[4.5,2.63,1.45,0.9,0.38],[5.5,1.76,1.5,0.73,0.03,-0.4,-0.83],[7.6,-0.31,-0.57],[9.3,0.76,0.24],[11.3,1.55,-0.31,-1.04,-1.35],[12.2,0.76,0.21,-0.45,-0.66],[15.8,0.21,-0.74],[17.8,0.47,0.07,-1.14],[20.1,-0.97,-1.09,-2.07]],
  [[4.5,2.25,1.1,0.98],[5.5,1.5,1.07,0.21,0.12,-0.31,-0.45,-0.57],[7.6,-0.79,-1,-1.21],[9.3,1.33,-0.66],[11.3,0.47,-0.83],[12.2,1.85,0.9,0.73,0.55,0.38,0.03,-0.83],[15.8,-0.83,-1.66,-2.18],[17.8,-0.28,-0.66],[20.1,-0.22,-0.4,-0.57,-0.69]],
  [[2.8,-0.69,-0.83,-0.97,-1.09],[4.4,2.19,0.86],[5.5,2.45,1.55,1.42,1.16,0.64,0.41,0.12],[7.6,-0.05,-0.22,-0.83],[9.3,0.69,0.21,-1.52],[11.3,1.16,0.41,0.07],[12.2,0.38,-0.4,-0.97],[15.8,-0.97,-1.14],[17.8,-0.45,-1.26],[20.1,-0.57,-1.21]],
  [[2.8,0.52,0.12,-0.57],[4.5,1.93,0.64],[5.5,1.76,1.55,0.93,0,-0.4,-0.45,-1.21,-1.43],[7.6,0.64,-0.45,-0.74],[9.3,0.12,-0.22,-0.79],[11.3,-0.22,-0.66,-1.04],[12.2,1.93,1.59,-0.62,-0.92,-1.04],[15.8,1.1,0.07,-0.57],[17.8,0.41,0.29,0.21],[20.1,-1.17,-1.35,-1.78]],
  [[2.8,0.12,-0.05,-0.69],[4.5,1.33,0.9,0.38],[5.5,2.59,1.76,1.16,0.47,-0.14,-0.48,-1.04,-1.17],[7.6,0.12,-0.05],[9.3,0.93,0.55],[11.3,-0.22,-0.45,-0.79,-1.04],[12.2,1.45,0.03,-0.66,-0.92],[15.8,0.29,-0.4,-1.04],[17.8,-0.92,-1.04],[20.1,-0.35,-0.79,-1.14]],
  [[2.8,1.62,0.24,-1.14],[4.5,1.93,1.8,1.33],[5.5,1.55,0.9,-0.14,-0.31,-0.45,-0.66,-0.83],[7.6,1.04,-0.14,-0.83],[9.3,1.04,0.55,-0.17],[11.3,0.47,0.12,-0.4],[12.2,0.52,0.24,0,-0.4,-0.62],[17.8,-1.31],[20.1,-1.35]],
  [[2.8,1.93,1.1,-0.35],[4.4,0.38,-0.22,-0.69],[5.5,1.5,1.28,1.04,-0.22,-0.45,-0.69],[7.6,-1.09,-1.26],[11.3,0.76,0.52,0.29,0.07],[12.2,0.98,0,-0.74,-1.43,-1.87],[17.8,-0.79,-0.97],[20.1,1.5,0.21,0.12]],
  [[2.8,1.73,1.55,0.29],[4.5,1.55],[5.5,1.73,1.62,0.64,0.38,0.07,-0.22,-0.45],[7.6,-0.45,-0.83],[11.3,0.38,0.12,-0.05],[12.2,0.59,0.47,0.21,-0.05,-0.31],[15.8,-0.22,-0.57],[17.8,-0.35,-1.04],[20.1,-1.69,-1.9,-2.07,-2.3]]
];
const pointSets = [lengthPts, widthPts, areaPts, slaPts, leafCPts, leafNPts, leafPPts, leafKPts];

// significant fits: [trait, species, slope label, fitted y at min x, fitted y at max x, label height]
const fits = [
  [0, 4, '-0.08*', 0.45, -0.82, 2.13], [0, 5, '0.08**', -0.6, 0.82, 2.13], [0, 7, '-0.08**', 0.55, -0.87, 2.13],
  [0, 9, '-0.10***', 0.76, -1.09, 2.1], [0, 10, '-0.06*', 0.42, -0.67, 2.18],
  [1, 0, '0.10***', -0.74, 1.15, 2.88], [1, 1, '-0.07*', 0.54, -0.76, 2.88], [1, 7, '-0.10***', 0.78, -1.08, 3.42],
  [1, 8, '-0.07*', 0.5, -0.8, 3.42], [1, 9, '-0.10**', 0.71, -1.13, 3.31], [1, 10, '-0.11***', 0.78, -1.08, 3.31],
  [2, 1, '-0.07*', 0.51, -0.58, 2.76], [2, 4, '-0.07*', 0.42, -0.64, 2.55], [2, 7, '-0.10***', 0.78, -1.04, 2.76],
  [2, 8, '-0.07*', 0.42, -0.69, 2.82], [2, 9, '-0.11***', 0.78, -1.13, 2.73], [2, 10, '-0.09**', 0.64, -0.87, 2.69],
  [3, 0, '-0.07*', 0.51, -0.73, 2.18], [3, 5, '-0.09**', 0.64, -0.91, 2.18], [3, 6, '-0.07*', 0.45, -0.69, 2.18],
  [3, 7, '-0.09**', 0.69, -0.91, 2.55], [3, 9, '-0.08**', 0.64, -0.87, 2.64], [3, 10, '-0.07*', 0.55, -0.73, 2.64],
  [4, 3, '-0.15***', 1.05, -1.52, 2.32], [4, 6, '-0.07*', 0.44, -0.77, 2.53], [4, 9, '0.12***', -0.91, 1.25, 2.38],
  [5, 0, '-0.10***', 0.72, -1.02, 2.0], [5, 3, '-0.12***', 0.92, -1.3, 2.09], [5, 4, '-0.09**', 0.55, -0.89, 2.13],
  [5, 5, '-0.08**', 0.62, -0.89, 2.13], [5, 8, '-0.10***', 0.72, -1.11, 2.09], [5, 10, '-0.11***', 0.87, -1.11, 2.09],
  [6, 6, '0.08**', -0.58, 0.81, 3.87], [6, 8, '0.09**', -0.58, 0.97, 3.83],
  [7, 0, '-0.11***', 0.85, -1.21, 2.45], [7, 1, '-0.12***', 0.86, -1.09, 2.45], [7, 2, '-0.09**', 0.59, -0.88, 2.45],
  [7, 3, '-0.09**', 0.64, -0.88, 2.45], [7, 4, '-0.09**', 0.59, -0.83, 2.45], [7, 5, '-0.09**', 0.64, -0.86, 2.37],
  [7, 7, '-0.08**', 0.64, -0.83, 2.37], [7, 8, '-0.11***', 0.81, -1.21, 2.31], [7, 10, '-0.13***', 1.02, -1.31, 2.31]
];
const labelX = 12.3;

const captionLines = [
  [['FIGURE 2 |', true], [' Changes in leaf functional traits along the urban\u2013rural gradient for each species, fitted with general linear models, with trait as the response variable and', false]],
  [['distance as the predictor variable. Trait values were scaled to zero mean and unit standard deviation in order to plot them on the same scale. The sign is the slope of', false]],
  [['changes in leaf functional traits along an urban\u2013rural gradient. Regression lines and slopes are shown when changes are significant (***', false], ['p', 'i'], [' < 0.001, **', false], ['p', 'i'], [' < 0.01, *', false], ['p', 'i'], [' <', false]],
  [['0.05).', false]]
];

// ---- layout -----------------------------------------------------------
const FONT = '"Liberation Sans", Arial, Helvetica, sans-serif';
const P = { left: 112, top: 166, w: 98.6, h: 107.5, dx: 106.8, dy: 117.5 };
const RED = '#FF0000';
const colLeft = c => P.left + c * P.dx;
const rowTop = r => P.top + r * P.dy;

const svg = d3.select('#chart');
svg.append('rect').attr('width', 1358).attr('height', 1313).attr('fill', '#fff');
svg.append('rect')
  .attr('x', 8.5).attr('y', 8.5).attr('width', 1341).attr('height', 1300)
  .attr('fill', 'none').attr('stroke', '#c9c9c9').attr('stroke-width', 1);

const x = d3.scaleLinear().domain(xLimits).range([0, P.w]);

// arrow heads
const defs = svg.append('defs');
['start', 'end'].forEach(k => {
  defs.append('marker')
    .attr('id', `head-${k}`)
    .attr('viewBox', '0 0 10 10').attr('refX', k === 'end' ? 9 : 1).attr('refY', 5)
    .attr('markerWidth', 5).attr('markerHeight', 4.2).attr('orient', 'auto')
    .append('path')
    .attr('d', k === 'end' ? 'M0,0L10,5L0,10z' : 'M10,0L0,5L10,10z')
    .attr('fill', RED);
});

// native / non-native header
origin.forEach((o, i) => {
  const x1 = colLeft(o.from) + 3.5;
  const x2 = colLeft(o.to) + P.w - (i === 0 ? 7 : 5.5);
  svg.append('line')
    .attr('x1', x1).attr('x2', x2).attr('y1', 52.5).attr('y2', 52.5)
    .attr('stroke', RED).attr('stroke-width', 2)
    .attr('marker-start', 'url(#head-start)').attr('marker-end', 'url(#head-end)');
  svg.append('text')
    .attr('x', i === 0 ? 551.5 : 1118).attr('y', 41.5)
    .attr('text-anchor', 'middle')
    .style('font-family', FONT).style('font-size', '21.5px').style('fill', RED)
    .text(o.label);
});

// column headers: habit + species strip
species.forEach((sp, c) => {
  const cx = colLeft(c) + P.w / 2;
  svg.append('text')
    .attr('x', cx - 8).attr('y', 93)
    .attr('text-anchor', 'middle')
    .style('font-family', FONT).style('font-size', '21.5px').style('fill', RED)
    .text(habit[c]);
  svg.append('rect')
    .attr('x', colLeft(c)).attr('y', 105).attr('width', P.w).attr('height', 52)
    .attr('fill', '#D9D9D9');
  const t = svg.append('text')
    .attr('text-anchor', 'middle')
    .style('font-family', FONT).style('font-size', '21.5px').style('font-style', 'italic')
    .style('fill', '#1A1A1A');
  t.append('tspan').attr('x', cx).attr('y', 123.3).text(sp[0]);
  t.append('tspan').attr('x', cx).attr('y', 148.3).text(sp[1]);
});

// panels
traits.forEach((trait, r) => {
  const y = d3.scaleLinear().domain(yLimits[r]).range([P.h, 0]);
  const color = traitColors[r];

  species.forEach((sp, c) => {
    const g = svg.append('g').attr('transform', `translate(${colLeft(c)},${rowTop(r)})`);
    g.append('rect').attr('width', P.w).attr('height', P.h).attr('fill', '#fff');

    const groups = pointSets[r][c];
    const pts = groups.flatMap(([d, ...vals]) => vals.map(v => ({ d, v })));
    g.append('g').selectAll('circle')
      .data(pts)
      .join('circle')
      .attr('cx', p => x(p.d))
      .attr('cy', p => y(p.v))
      .attr('r', 3.25)
      .attr('fill', color);

    const fit = fits.find(f => f[0] === r && f[1] === c);
    if (fit) {
      const [dMin, dMax] = d3.extent(groups, gr => gr[0]);
      g.append('line')
        .attr('x1', x(dMin)).attr('y1', y(fit[3]))
        .attr('x2', x(dMax)).attr('y2', y(fit[4]))
        .attr('stroke', '#4D4D4D').attr('stroke-width', 3.3).attr('stroke-linecap', 'butt');
      g.append('text')
        .attr('x', x(labelX)).attr('y', y(fit[5])).attr('dy', '0.36em')
        .attr('text-anchor', 'middle')
        .style('font-family', FONT).style('font-size', '21.5px').style('fill', '#000')
        .text(fit[2]);
    }

    g.append('rect').attr('width', P.w).attr('height', P.h)
      .attr('fill', 'none').attr('stroke', '#333333').attr('stroke-width', 1.3);
  });

  // y axis on the first column
  const ay = svg.append('g')
    .attr('transform', `translate(${P.left},${rowTop(r)})`)
    .call(d3.axisLeft(y)
      .tickValues(yTicks[r])
      .tickSize(3.5)
      .tickPadding(7.5)
      .tickFormat(d => yTickLabels[r].includes(d) ? String(d) : ''));
  ay.select('.domain').remove();
  ay.selectAll('.tick line').attr('stroke', '#333333').attr('stroke-width', 1.1);
  ay.selectAll('.tick text')
    .style('font-family', FONT).style('font-size', '21.5px').attr('fill', '#4D4D4D');

  // trait strip on the right
  const sx = colLeft(species.length - 1) + P.w + 1.5;
  svg.append('rect')
    .attr('x', sx).attr('y', rowTop(r)).attr('width', 41).attr('height', P.h)
    .attr('fill', '#D9D9D9');
  svg.append('text')
    .attr('transform', `translate(${sx + 20.5},${rowTop(r) + P.h / 2}) rotate(90)`)
    .attr('text-anchor', 'middle').attr('dy', '0.35em')
    .style('font-family', FONT).style('font-size', '21.5px').style('fill', '#1A1A1A')
    .text(trait);
});

// x axes under the last row
species.forEach((sp, c) => {
  const ax = svg.append('g')
    .attr('transform', `translate(${colLeft(c)},${rowTop(traits.length - 1) + P.h})`)
    .call(d3.axisBottom(x)
      .tickValues(xTicks)
      .tickSize(3.5)
      .tickPadding(10.5)
      .tickFormat(d => xTickLabels.includes(d) ? String(d) : ''));
  ax.select('.domain').remove();
  ax.selectAll('.tick line').attr('stroke', '#333333').attr('stroke-width', 1.1);
  ax.selectAll('.tick text')
    .style('font-family', FONT).style('font-size', '21.5px').attr('fill', '#4D4D4D');
});

// axis titles
svg.append('text')
  .attr('x', 682).attr('y', 1166)
  .attr('text-anchor', 'middle')
  .style('font-family', FONT).style('font-size', '25.5px').style('fill', '#000')
  .text('Distance of parks from the city center (km)');
svg.append('text')
  .attr('transform', 'translate(61,644) rotate(-90)')
  .attr('text-anchor', 'middle')
  .style('font-family', FONT).style('font-size', '25.5px').style('fill', '#000')
  .text('Scaled trait value');

// caption
captionLines.forEach((line, i) => {
  const t = svg.append('text')
    .attr('x', 22).attr('y', 1226 + i * 24.7)
    .style('font-family', '"Open Sans", "Noto Sans", sans-serif')
    .style('font-size', '16.5px').style('fill', '#333');
  if (i < captionLines.length - 1) t.attr('textLength', 1308).attr('lengthAdjust', 'spacing');
  line.forEach(([s, st]) => {
    const sp = t.append('tspan').text(s);
    if (st === true) sp.style('font-weight', 'bold').style('fill', '#1a1a1a');
    if (st === 'i') sp.style('font-style', 'italic');
  });
});
</script>
</body>
</html>
